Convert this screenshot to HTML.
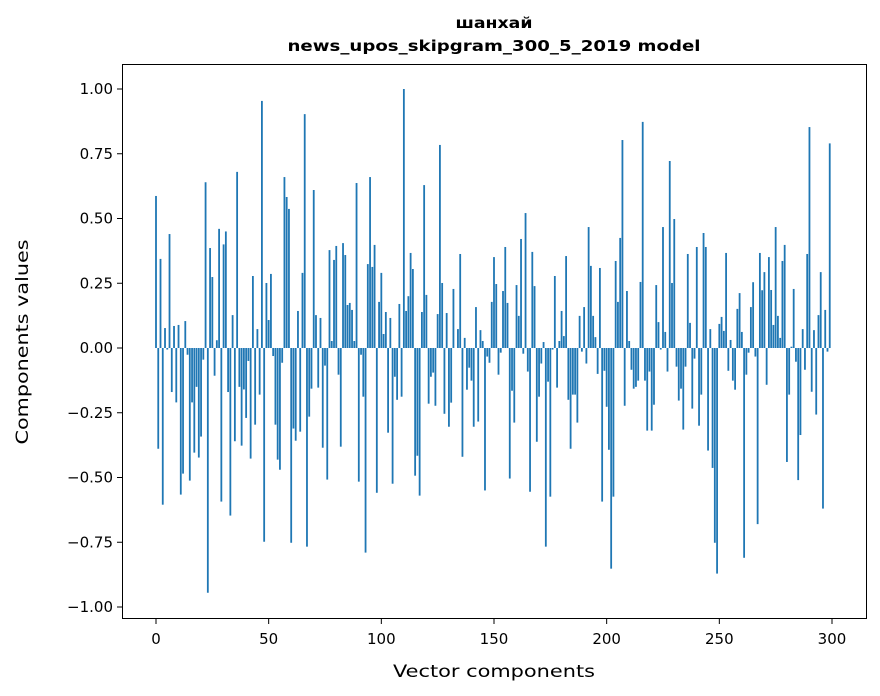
<!DOCTYPE html>
<html><head><meta charset="utf-8"><style>
body{margin:0;background:#fff}
svg{display:block;font-family:"DejaVu Sans","Liberation Sans",sans-serif}
</style></head><body>
<svg id="chart" width="880" height="696" viewBox="0 0 880 696" xmlns="http://www.w3.org/2000/svg">
<rect width="880" height="696" fill="#fff"/>
<text x="494" y="28" text-anchor="middle" font-size="15" font-weight="bold" textLength="77" lengthAdjust="spacingAndGlyphs">шанхай</text>
<text x="494" y="51" text-anchor="middle" font-size="15" font-weight="bold" textLength="413" lengthAdjust="spacingAndGlyphs">news_upos_skipgram_300_5_2019 model</text>
<g id="bars"></g>
<rect x="122.5" y="64.5" width="744" height="554" fill="none" stroke="#000" stroke-width="1"/>
<g id="xticks"></g>
<g id="yticks"></g>
<text x="494" y="677" text-anchor="middle" font-size="17" textLength="202" lengthAdjust="spacingAndGlyphs">Vector components</text>
<text transform="translate(28,342) rotate(-90)" text-anchor="middle" font-size="17" textLength="205" lengthAdjust="spacingAndGlyphs">Components values</text>
</svg>
<script>
const values = [
0.587,-0.389,0.344,-0.605,0.077,-0.006,0.44,-0.17,0.085,-0.21,
0.089,-0.566,-0.485,0.104,-0.026,-0.512,-0.21,-0.404,-0.15,-0.423,
-0.342,-0.045,0.64,-0.945,0.386,0.274,-0.107,0.03,0.46,-0.593,
0.40,0.45,-0.17,-0.647,0.127,-0.36,0.68,-0.15,-0.377,-0.16,
-0.27,-0.05,-0.427,0.278,-0.296,0.073,-0.18,0.954,-0.748,0.251,
0.108,0.286,-0.031,-0.296,-0.431,-0.47,-0.057,0.66,0.583,0.537,
-0.752,-0.311,-0.358,0.143,-0.323,0.29,0.903,-0.767,-0.265,-0.157,
0.61,0.127,-0.153,0.116,-0.385,-0.068,-0.508,0.378,0.027,0.34,
0.394,-0.103,-0.381,0.405,0.359,0.166,0.174,0.147,0.027,0.637,
-0.516,-0.026,-0.188,-0.79,0.324,0.66,0.313,0.398,-0.559,0.178,
0.29,0.054,0.139,-0.327,0.116,-0.524,-0.111,-0.2,0.17,-0.188,
1.0,0.143,0.2,0.367,0.305,-0.493,-0.416,-0.57,0.139,0.629,
0.205,-0.215,-0.111,-0.095,-0.223,0.131,0.784,0.251,-0.254,0.135,
-0.304,-0.211,0.228,0.0,0.073,0.363,-0.42,0.039,-0.161,-0.076,
-0.126,-0.304,0.158,-0.284,0.069,0.027,-0.55,-0.033,-0.057,0.178,
0.351,0.247,-0.103,-0.018,0.22,0.39,0.174,-0.504,-0.165,-0.288,
0.243,0.124,0.421,-0.022,0.521,-0.091,-0.555,0.371,0.239,-0.362,
-0.188,-0.06,0.023,-0.767,-0.13,-0.574,-0.006,0.278,-0.153,0.027,
0.143,0.046,0.355,-0.2,-0.389,-0.18,-0.18,-0.288,0.124,-0.014,
0.158,-0.06,0.467,0.317,0.124,0.042,-0.1,0.309,-0.593,-0.088,
-0.227,-0.393,-0.852,-0.574,0.336,0.178,0.425,0.803,-0.223,0.22,
0.027,-0.084,-0.157,-0.15,-0.126,0.255,0.873,-0.126,-0.319,-0.091,
-0.319,-0.219,0.243,0.1,-0.006,0.467,0.062,-0.091,0.722,0.251,
0.498,-0.072,-0.203,-0.157,-0.315,-0.072,0.363,0.097,-0.234,-0.041,
0.39,-0.3,-0.18,0.444,0.39,-0.396,0.073,-0.463,-0.752,-0.871,
0.093,0.12,0.066,0.367,-0.088,0.031,-0.126,-0.161,0.151,0.212,
0.062,-0.81,-0.103,-0.018,0.158,0.254,-0.033,-0.68,0.367,0.223,
0.293,-0.142,0.351,0.224,0.089,0.467,0.124,0.039,0.336,0.398,
-0.44,-0.18,0.005,0.228,-0.053,-0.51,-0.336,0.073,-0.084,0.363,
0.853,-0.169,0.069,-0.257,0.127,0.293,-0.62,0.147,-0.014,0.79
];
const xTicks = [0,50,100,150,200,250,300];
const yTicks = [-1.00,-0.75,-0.50,-0.25,0.00,0.25,0.50,0.75,1.00];
const NS='http://www.w3.org/2000/svg';
function xs(i){return 156+2.2533*i;}
function ys(v){return 348-259*v;}
const bars=document.getElementById('bars');
values.forEach((v,i)=>{
  const r=document.createElementNS(NS,'rect');
  const w=2.2533*0.8;
  r.setAttribute('x',xs(i)-w/2);
  r.setAttribute('width',w);
  r.setAttribute('y',Math.min(ys(v),ys(0)));
  r.setAttribute('height',Math.abs(ys(v)-ys(0)));
  r.setAttribute('fill','#1f77b4');
  
  
  bars.appendChild(r);
});
const xg=document.getElementById('xticks');
xTicks.forEach(t=>{
  const l=document.createElementNS(NS,'line');
  l.setAttribute('x1',xs(t));l.setAttribute('x2',xs(t));
  l.setAttribute('y1',619);l.setAttribute('y2',624);
  l.setAttribute('stroke','#000');
  
  
  xg.appendChild(l);
  const tx=document.createElementNS(NS,'text');
  tx.setAttribute('x',xs(t));tx.setAttribute('y',644);
  tx.setAttribute('text-anchor','middle');tx.setAttribute('font-size','15');
  tx.textContent=t;
  
  
  xg.appendChild(tx);
});
const yg=document.getElementById('yticks');
yTicks.forEach(t=>{
  const l=document.createElementNS(NS,'line');
  l.setAttribute('x1',117);l.setAttribute('x2',122);
  l.setAttribute('y1',ys(t));l.setAttribute('y2',ys(t));
  l.setAttribute('stroke','#000');
  
  
  yg.appendChild(l);
  const tx=document.createElementNS(NS,'text');
  tx.setAttribute('x',113);tx.setAttribute('y',ys(t)+5);
  tx.setAttribute('text-anchor','end');tx.setAttribute('font-size','15');
  tx.textContent=(t<0?'\u2212':'')+Math.abs(t).toFixed(2);
  
  
  yg.appendChild(tx);
});
</script>
</body></html>
